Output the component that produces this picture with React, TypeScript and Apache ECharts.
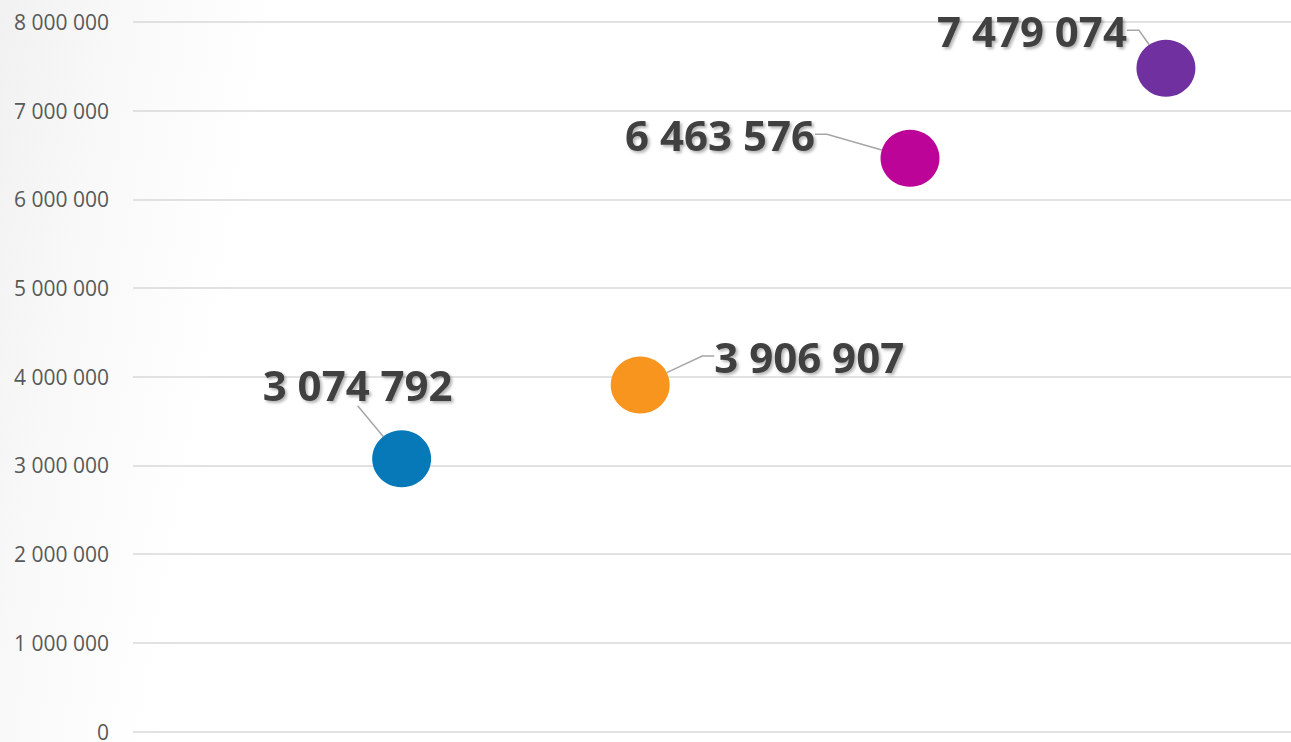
import React, { useEffect, useRef } from "react";
import * as echarts from "echarts";

// Data
const labels = ["3 074 792", "3 906 907", "6 463 576", "7 479 074"];
const xValues = [23.2, 43.8, 67.1, 89.2];
const yValues = [3074792, 3906907, 6463576, 7479074];
const colors = ["#0778B8", "#F7951F", "#BC0499", "#7030A0"];
const yTicks = [0, 1000000, 2000000, 3000000, 4000000, 5000000, 6000000, 7000000, 8000000];

// label offsets and leader tail lengths (style only)
const labelOffsets = [
  [-44, -74],
  [169, -29],
  [-190, -24],
  [-134, -38],
];
const leaderTail = [0, 12, 12, 12];

const fmt = (v: number) =>
  String(Math.round(v)).replace(/\B(?=(\d{3})+(?!\d))/g, " ");

export default function App() {
  const ref = useRef<HTMLDivElement>(null);
  useEffect(() => {
    document.body.style.margin = "0";
    const chart = echarts.init(ref.current!, undefined, { renderer: "svg" });
    chart.setOption({
      animation: false,
      grid: { left: 133, right: 0, top: 22, bottom: 7, containLabel: false },
      xAxis: {
        type: "value",
        min: 0,
        max: 100,
        show: false,
      },
      yAxis: {
        type: "value",
        min: yTicks[0],
        max: yTicks[yTicks.length - 1],
        interval: 1000000,
        axisLine: { show: false },
        axisTick: { show: false },
        axisLabel: {
          formatter: (v: number) => fmt(v),
          color: "#595959",
          fontFamily: "Open Sans",
          fontSize: 21,
          margin: 24,
        },
        splitLine: { lineStyle: { color: "#d9d9d9", width: 1.5 } },
      },
      series: [
        {
          type: "scatter",
          symbol: "circle",
          symbolSize: [59, 57],
          itemStyle: { opacity: 1 },
          data: xValues.map((x, i) => ({
            value: [x, yValues[i]],
            name: labels[i],
            itemStyle: { color: colors[i], opacity: 1 },
            labelLine: { length2: leaderTail[i] },
          })),
          label: {
            show: true,
            position: "inside",
            formatter: (p: any) => labels[p.dataIndex],
            color: "#404040",
            fontFamily: "Open Sans",
            fontWeight: "bold",
            fontSize: 42,
            padding: [0, 9],
            textShadowColor: "rgba(0,0,0,0.3)",
            textShadowBlur: 3,
            textShadowOffsetX: 2,
            textShadowOffsetY: 2,
          },
          labelLine: {
            show: true,
            length2: 12,
            lineStyle: { color: "#a6a6a6", width: 1.5 },
          },
          labelLayout: (p: any) => ({
            dx: labelOffsets[p.dataIndex][0],
            dy: labelOffsets[p.dataIndex][1],
          }),
        },
      ],
    });
    return () => chart.dispose();
  }, []);
  return (
    <div
      ref={ref}
      style={{
        position: "absolute",
        left: 0,
        top: 0,
        width: 1291,
        height: 742,
        background:
          "linear-gradient(100deg, #f1f1f1 0%, #f8f8f8 8%, #ffffff 20%)",
      }}
    />
  );
}
